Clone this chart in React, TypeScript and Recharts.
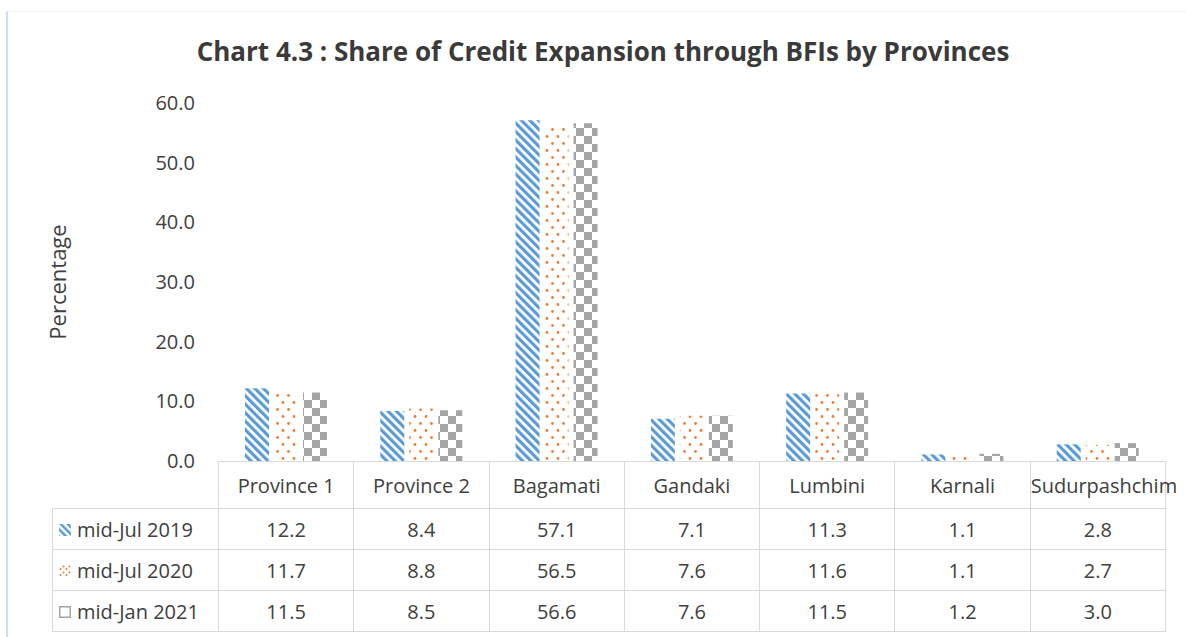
import { BarChart, Bar, XAxis, YAxis } from 'recharts'

const provinces = ['Province 1', 'Province 2', 'Bagamati', 'Gandaki', 'Lumbini', 'Karnali', 'Sudurpashchim']
const julyNineteen = [12.2, 8.4, 57.1, 7.1, 11.3, 1.1, 2.8]
const julyTwenty = [11.7, 8.8, 56.5, 7.6, 11.6, 1.1, 2.7]
const janTwentyOne = [11.5, 8.5, 56.6, 7.6, 11.5, 1.2, 3.0]
const yTicks = [0, 10, 20, 30, 40, 50, 60]

const seriesList = [
  { key: 'jul19', name: 'mid-Jul 2019', values: julyNineteen, fill: 'url(#stripeBlue)', swatch: 'blue' },
  { key: 'jul20', name: 'mid-Jul 2020', values: julyTwenty, fill: 'url(#dotOrange)', swatch: 'orange' },
  { key: 'jan21', name: 'mid-Jan 2021', values: janTwentyOne, fill: 'url(#checkGray)', swatch: 'gray' },
]

const data = provinces.map((p, i) => ({
  name: p,
  jul19: julyNineteen[i],
  jul20: julyTwenty[i],
  jan21: janTwentyOne[i],
}))

const FONT = '"Open Sans", "Noto Sans", sans-serif'
const TEXT = '#404040'
const GRID = '#d9d9d9'

// plot box in page pixels
const PLOT_LEFT = 218
const PLOT_RIGHT = 1165
const PLOT_TOP = 103
const PLOT_BOTTOM = 461

function Swatch({ kind }: { kind: string }) {
  const id = 'sw-' + kind
  return (
    <svg width={12} height={12} style={{ verticalAlign: 'middle', marginRight: 6, position: 'relative', top: -1 }}>
      <defs>
        {kind === 'blue' && (
          <pattern id={id} width={5} height={5} patternUnits="userSpaceOnUse" patternTransform="rotate(-45)">
            <rect width={2.5} height={5} fill="#5B9BD5" />
          </pattern>
        )}
        {kind === 'orange' && (
          <pattern id={id} width={6} height={6} patternUnits="userSpaceOnUse">
            <circle cx={1.5} cy={4} r={1} fill="#ED7D31" />
            <circle cx={4.5} cy={1.5} r={1} fill="#ED7D31" />
          </pattern>
        )}
      </defs>
      {kind === 'gray' ? (
        <rect x={0.75} y={0.75} width={10.5} height={10.5} fill="#fff" stroke="#A5A5A5" strokeWidth={1.5} />
      ) : (
        <rect width={12} height={12} fill={`url(#${id})`} />
      )}
    </svg>
  )
}

export default function App() {
  const colW = (PLOT_RIGHT - PLOT_LEFT) / provinces.length
  const legendLeft = 52
  const cell: React.CSSProperties = {
    border: `1.5px solid ${GRID}`,
    textAlign: 'center',
    padding: 0,
    fontSize: 20,
    color: TEXT,
  }

  return (
    <div style={{ position: 'absolute', left: 0, top: 0, width: 1186, height: 637, background: '#fff', fontFamily: FONT, overflow: 'hidden' }}>
      <div style={{ position: 'absolute', left: 6, top: 11, width: 1200, height: 640, borderTop: '1px solid #eef4fa', borderLeft: '2px solid #cde0f2' }} />
      <div style={{ position: 'absolute', left: 0, width: 1206, top: 33, textAlign: 'center', fontSize: 26, fontWeight: 700, color: '#3a3a3a' }}>
        Chart 4.3 : Share of Credit Expansion through BFIs by Provinces
      </div>

      <div style={{ position: 'absolute', left: 0, top: 0 }}>
        <BarChart
          width={1186}
          height={637}
          data={data}
          margin={{ top: PLOT_TOP, right: 1186 - PLOT_RIGHT, bottom: 637 - PLOT_BOTTOM, left: 48 }}
          barSize={24}
          barGap={5}
        >
          <defs>
            <pattern id="stripeBlue" width={6} height={6} patternUnits="userSpaceOnUse" patternTransform="rotate(-45)">
              <rect width={6} height={6} fill="#fff" />
              <rect width={3.2} height={6} fill="#5B9BD5" />
            </pattern>
            <pattern id="dotOrange" width={11} height={14} patternUnits="userSpaceOnUse">
              <rect width={11} height={14} fill="#fff" />
              <circle cx={2.5} cy={3.5} r={1.4} fill="#ED7D31" />
              <circle cx={8} cy={10.5} r={1.4} fill="#ED7D31" />
            </pattern>
            <pattern id="checkGray" width={16} height={16} patternUnits="userSpaceOnUse">
              <rect width={16} height={16} fill="#fff" />
              <rect width={8} height={8} fill="#A5A5A5" />
              <rect x={8} y={8} width={8} height={8} fill="#A5A5A5" />
            </pattern>
          </defs>
          <XAxis dataKey="name" hide />
          <YAxis
            width={PLOT_LEFT - 48}
            domain={[0, 60]}
            ticks={yTicks}
            tickFormatter={(v: number) => v.toFixed(1)}
            tick={{ fill: TEXT, fontSize: 20, fontFamily: FONT }}
            axisLine={false}
            tickLine={false}
            tickSize={0}
            tickMargin={23}
            label={{ value: 'Percentage', angle: -90, position: 'insideLeft', offset: 10, style: { fill: TEXT, fontSize: 22, fontFamily: FONT, textAnchor: 'middle' } }}
          />
          {seriesList.map((s) => (
            <Bar key={s.key} dataKey={s.key} name={s.name} fill={s.fill} isAnimationActive={false} />
          ))}
        </BarChart>
      </div>

      <table
        style={{
          position: 'absolute',
          left: legendLeft,
          top: PLOT_BOTTOM,
          borderCollapse: 'collapse',
          tableLayout: 'fixed',
          width: PLOT_RIGHT - legendLeft,
          fontFamily: FONT,
        }}
      >
        <colgroup>
          <col style={{ width: PLOT_LEFT - legendLeft }} />
          {provinces.map((p) => (
            <col key={p} style={{ width: colW }} />
          ))}
        </colgroup>
        <tbody>
          <tr style={{ height: 47 }}>
            <td style={{ border: 'none' }} />
            {provinces.map((p) => (
              <td key={p} style={{ ...cell, whiteSpace: 'nowrap', overflow: 'visible' }}>{p}</td>
            ))}
          </tr>
          {seriesList.map((s) => (
            <tr key={s.key} style={{ height: 41 }}>
              <td style={{ ...cell, textAlign: 'left', paddingLeft: 6, whiteSpace: 'nowrap' }}>
                <Swatch kind={s.swatch} />
                {s.name}
              </td>
              {s.values.map((v, i) => (
                <td key={i} style={cell}>{v.toFixed(1)}</td>
              ))}
            </tr>
          ))}
        </tbody>
      </table>
    </div>
  )
}
